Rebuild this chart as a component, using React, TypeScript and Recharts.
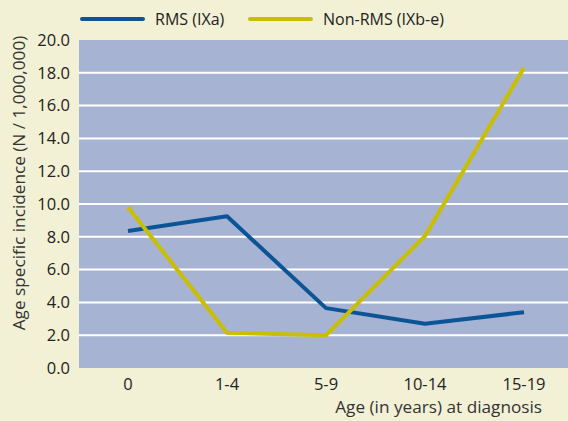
import React from 'react';
import {
  LineChart,
  Line,
  XAxis,
  YAxis,
  CartesianGrid,
  Legend,
  Label,
  ReferenceLine
} from 'recharts';

const ageGroups = ['0', '1-4', '5-9', '10-14', '15-19'];
const rmsValues = [8.35, 9.25, 3.65, 2.7, 3.4];
const nonRmsValues = [9.8, 2.15, 2.0, 8.05, 18.3];
const yTicks = [0, 2, 4, 6, 8, 10, 12, 14, 16, 18, 20];

const seriesNames = { rms: 'RMS (IXa)', nonRms: 'Non-RMS (IXb-e)' };
const axisTitles = {
  y: 'Age specific incidence  (N / 1,000,000)',
  x: 'Age (in years) at diagnosis'
};

const BLUE = '#0b5597';
const YELLOW = '#c9bf00';
const BG = '#f3f1d5';
const PLOT_BG = '#a6b3d2';
const FONT = '"Open Sans", sans-serif';

const data = ageGroups.map((age, i) => ({
  age,
  rms: rmsValues[i],
  nonRms: nonRmsValues[i]
}));

const swatch = (color: string) => (
  <span style={{ display: 'inline-block', width: 65, height: 4, borderRadius: 2, background: color, marginRight: 10, flexShrink: 0 }} />
);

const LegendContent = () => (
  <div style={{ display: 'flex', alignItems: 'center', paddingLeft: 80, height: 20, fontFamily: FONT, fontSize: 16, color: '#222' }}>
    {swatch(BLUE)}
    <span style={{ width: 93, flexShrink: 0 }}>{seriesNames.rms}</span>
    {swatch(YELLOW)}
    <span style={{ whiteSpace: 'nowrap' }}>{seriesNames.nonRms}</span>
  </div>
);

const YTitle = (props: any) => {
  const { viewBox } = props;
  const cx = viewBox.x + 18;
  const cy = viewBox.y + viewBox.height / 2 - 21;
  return (
    <text x={cx} y={cy} transform={`rotate(-90 ${cx} ${cy})`} textAnchor="middle" dominantBaseline="central"
      fontFamily={FONT} fontSize={17.2} fill="#333">
      {axisTitles.y}
    </text>
  );
};

const XTitle = (props: any) => {
  const { viewBox } = props;
  return (
    <text x={viewBox.x + viewBox.width - 31} y={viewBox.y + 45} textAnchor="end"
      fontFamily={FONT} fontSize={17.2} fill="#333">
      {axisTitles.x}
    </text>
  );
};

const App: React.FC = () => {
  return (
    <div style={{ position: 'absolute', left: 0, top: 0, width: 568, height: 421, overflow: 'hidden', background: BG }}>
      <LineChart width={573} height={421} data={data} margin={{ top: 20, right: 0, left: 0, bottom: 0 }}>
        <CartesianGrid vertical={false} horizontal={false} fill={PLOT_BG} fillOpacity={1} />
        {yTicks.slice(1, -1).map(v => (
          <ReferenceLine key={v} y={v} stroke="#ffffff" strokeWidth={2} />
        ))}
        <XAxis
          dataKey="age"
          axisLine={false}
          tickLine={false}
          tickSize={0}
          tickMargin={10}
          padding={{ left: 49, right: 49 }}
          tick={{ fontSize: 16.5, fill: '#222', fontFamily: FONT }}
          height={53}
        >
          <Label content={<XTitle />} />
        </XAxis>
        <YAxis
          domain={[0, 20]}
          ticks={yTicks}
          interval={0}
          width={79}
          axisLine={false}
          tickLine={false}
          tickSize={0}
          tickMargin={9}
          tickFormatter={(v: number) => v.toFixed(1)}
          tick={{ fontSize: 16.5, fill: '#222', fontFamily: FONT }}
        >
          <Label content={<YTitle />} />
        </YAxis>
        <Legend verticalAlign="top" align="left" content={<LegendContent />} wrapperStyle={{ top: 9, left: 0 }} />
        <Line dataKey="rms" name={seriesNames.rms} stroke={BLUE} strokeWidth={4} dot={false} isAnimationActive={false} strokeLinejoin="round" />
        <Line dataKey="nonRms" name={seriesNames.nonRms} stroke={YELLOW} strokeWidth={4} dot={false} isAnimationActive={false} strokeLinejoin="miter" />
      </LineChart>
    </div>
  );
};

export default App;
